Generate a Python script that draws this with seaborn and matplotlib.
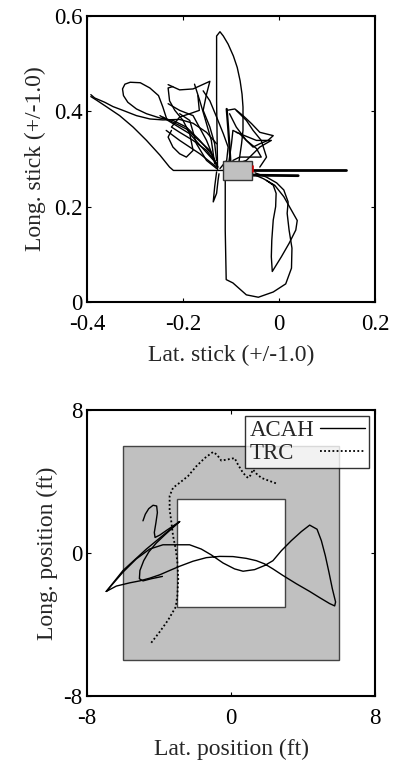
import numpy as np
import pandas as pd
import matplotlib
matplotlib.use("Agg")
import matplotlib.pyplot as plt
from matplotlib.patches import Rectangle
from matplotlib.lines import Line2D
from matplotlib.offsetbox import DrawingArea
import seaborn as sns

sns.set_style("ticks")
plt.rcParams['font.family'] = ['Liberation Serif', 'DejaVu Serif']
plt.rcParams['axes.unicode_minus'] = False

# ---------------- Top panel: stick traces (lat, long) ----------------
s_tall_x = [-0.128, -0.130, -0.130, -0.123, -0.116, -0.106, -0.095, -0.087, -0.081, -0.077, -0.075, -0.075, -0.075, -0.078, -0.081, -0.084]
s_tall_y = [0.276, 0.422, 0.558, 0.567, 0.558, 0.541, 0.516, 0.492, 0.464, 0.436, 0.409, 0.381, 0.360, 0.332, 0.311, 0.290]

s_bot_x = [-0.112, -0.112, -0.110, -0.096, -0.068, -0.043, -0.012, 0.014, 0.026, 0.027, 0.021, 0.017, 0.019, 0.010, -0.005, -0.026, -0.050]
s_bot_y = [0.255, 0.150, 0.047, 0.040, 0.015, 0.010, 0.021, 0.038, 0.071, 0.113, 0.151, 0.186, 0.210, 0.235, 0.250, 0.262, 0.271]

s_inner_x = [-0.054, -0.033, -0.009, 0.010, 0.024, 0.038, 0.035, 0.021, 0.005, -0.014, -0.016, -0.015, -0.012, -0.007, -0.006, -0.012, -0.026]
s_inner_y = [0.268, 0.259, 0.245, 0.221, 0.196, 0.171, 0.151, 0.123, 0.095, 0.064, 0.095, 0.130, 0.172, 0.200, 0.228, 0.245, 0.255]

s_diag_x = [-0.392, -0.381, -0.360, -0.332, -0.304, -0.276, -0.248, -0.228, -0.220, -0.172, -0.130, -0.116]
s_diag_y = [0.431, 0.424, 0.410, 0.391, 0.367, 0.339, 0.308, 0.283, 0.276, 0.276, 0.276, 0.276]

s_upleft_x = [-0.392, -0.384, -0.363, -0.346, -0.325, -0.297, -0.269, -0.242, -0.207, -0.179, -0.151, -0.130]
s_upleft_y = [0.435, 0.428, 0.419, 0.410, 0.402, 0.391, 0.384, 0.382, 0.383, 0.375, 0.356, 0.332]

s_loop_x = [-0.234, -0.242, -0.251, -0.269, -0.289, -0.310, -0.321, -0.326, -0.324, -0.315, -0.297, -0.276, -0.248, -0.221, -0.193, -0.165, -0.141, -0.129]
s_loop_y = [0.384, 0.409, 0.433, 0.449, 0.460, 0.461, 0.457, 0.447, 0.433, 0.419, 0.405, 0.395, 0.386, 0.381, 0.367, 0.339, 0.311, 0.283]

s_a_x = [-0.231, -0.207, -0.179, -0.144, -0.151, -0.158, -0.144, -0.134, -0.130]
s_a_y = [0.456, 0.445, 0.447, 0.463, 0.436, 0.402, 0.367, 0.332, 0.297]

s_b_x = [-0.224, -0.231, -0.221, -0.207, -0.193, -0.179, -0.186, -0.200, -0.217, -0.228, -0.231, -0.221]
s_b_y = [0.360, 0.346, 0.325, 0.311, 0.304, 0.318, 0.353, 0.381, 0.402, 0.422, 0.449, 0.452]

s_c_x = [-0.169, -0.166, -0.186, -0.207, -0.224, -0.207, -0.179, -0.151, -0.129]
s_c_y = [0.433, 0.402, 0.395, 0.388, 0.367, 0.356, 0.339, 0.318, 0.290]

s_d_x = [-0.158, -0.144, -0.130, -0.116, -0.106, -0.109, -0.123]
s_d_y = [0.443, 0.422, 0.388, 0.353, 0.325, 0.297, 0.280]

s_e_x = [-0.109, -0.092, -0.075, -0.057, -0.040, -0.012, -0.023, -0.040, -0.054, -0.068, -0.082, -0.096, -0.099, -0.103, -0.106]
s_e_y = [0.402, 0.405, 0.391, 0.374, 0.356, 0.349, 0.339, 0.332, 0.325, 0.339, 0.353, 0.360, 0.332, 0.304, 0.283]

s_f_x = [-0.103, -0.089, -0.068, -0.047, -0.037, -0.082, -0.096]
s_f_y = [0.395, 0.367, 0.339, 0.322, 0.304, 0.304, 0.297]

s_g_x = [-0.089, -0.047, -0.016, -0.040, -0.054, -0.068, -0.089]
s_g_y = [0.356, 0.339, 0.339, 0.325, 0.311, 0.297, 0.290]

s_h_x = [-0.248, -0.186, -0.130]
s_h_y = [0.391, 0.353, 0.290]

s_i_x = [-0.242, -0.193, -0.144, -0.127]
s_i_y = [0.388, 0.363, 0.318, 0.283]

s_j_x = [-0.235, -0.207, -0.165, -0.130]
s_j_y = [0.360, 0.339, 0.311, 0.283]

s_k_x = [-0.207, -0.186, -0.172, -0.151, -0.130]
s_k_y = [0.395, 0.381, 0.332, 0.297, 0.280]

s_m_x = [-0.231, -0.207, -0.179, -0.151, -0.134]
s_m_y = [0.416, 0.402, 0.391, 0.339, 0.297]

s_n_x = [-0.176, -0.165, -0.155, -0.141, -0.134]
s_n_y = [0.457, 0.422, 0.388, 0.339, 0.290]

s_p_x = [-0.109, -0.106, -0.103, -0.101]
s_p_y = [0.405, 0.367, 0.325, 0.290]

s_q_x = [-0.089, -0.068, -0.054, -0.037, -0.026, -0.040]
s_q_y = [0.402, 0.381, 0.360, 0.339, 0.304, 0.283]

s_spike_x = [-0.130, -0.134, -0.137, -0.130, -0.127, -0.125]
s_spike_y = [0.273, 0.242, 0.210, 0.228, 0.255, 0.269]

s_long_x = [-0.056, 0.139]
s_long_y = [0.277, 0.277]
s_short_x = [-0.054, 0.040]
s_short_y = [0.266, 0.265]

stick_box_x = [-0.116, -0.056]
stick_box_y = [0.255, 0.295]
red_x = [-0.055, -0.055]
red_y = [0.272, 0.285]

top_xticks = [-0.4, -0.2, 0, 0.2]
top_xlabels = ["-0.4", "-0.2", "0", "0.2"]
top_yticks = [0, 0.2, 0.4, 0.6]
top_ylabels = ["0", "0.2", "0.4", "0.6"]

# ---------------- Bottom panel: position traces ----------------
acah1_x = [-4.89, -4.76, -4.57, -4.33, -4.13, -4.09, -4.17, -4.26, -4.22, -3.96, -3.56, -3.13, -2.85, -3.22, -3.69, -4.15, -4.56, -4.85, -5.06, -5.09, -4.89, -4.43, -3.81]
acah1_y = [1.80, 2.17, 2.48, 2.67, 2.63, 2.26, 1.70, 1.15, 0.87, 1.00, 1.28, 1.57, 1.76, 1.43, 1.00, 0.56, 0.07, -0.43, -0.98, -1.44, -1.56, -1.44, -1.31]

acah2_x = [-2.85, -4.70, -6.00, -6.93]
acah2_y = [1.76, 0.22, -0.98, -2.15]

acah3_x = [-6.93, -6.37, -5.63, -5.07, -4.52, -3.96, -3.41, -2.85, -2.11, -1.37, -0.63, 0.11, 0.85, 1.41, 1.87, 2.33, 2.89, 3.63, 4.37, 4.93, 5.48, 5.76,
           5.81, 5.63, 5.44, 5.24, 5.02, 4.78, 4.37, 3.91, 3.35, 2.80, 2.33, 1.87, 1.31, 0.67, 0.20, -0.44, -1.09, -1.65, -2.30, -3.78, -4.52, -5.26, -6.00, -6.56, -6.93]
acah3_y = [-2.15, -1.85, -1.67, -1.56, -1.41, -1.22, -0.98, -0.74, -0.46, -0.26, -0.19, -0.20, -0.30, -0.43, -0.61, -0.89, -1.26, -1.72, -2.15, -2.50, -2.83, -2.96,
           -2.74, -2.00, -1.07, -0.15, 0.69, 1.33, 1.56, 1.20, 0.69, 0.13, -0.43, -0.70, -0.93, -1.02, -0.89, -0.56, -0.11, 0.22, 0.46, 0.46, 0.22, -0.33, -1.07, -1.72, -2.15]

trc_x = [-4.43, -3.96, -3.50, -3.07, -2.98, -2.93, -2.98, -3.07, -3.22, -3.31, -3.41, -3.41, -3.22, -2.85, -2.39, -1.93, -1.46, -1.00, -0.78, -0.54, -0.26, 0.20, 0.39, 0.67, 0.94, 1.07, 1.22, 1.41, 1.69, 2.06, 2.52]
trc_y = [-5.02, -4.41, -3.76, -3.02, -2.37, -1.44, -0.52, 0.22, 0.96, 1.70, 2.44, 3.19, 3.65, 3.93, 4.30, 4.85, 5.31, 5.65, 5.50, 5.17, 5.22, 5.31, 4.94, 4.48, 4.20, 4.33, 4.67, 4.44, 4.20, 4.06, 3.89]

legend_labels = ["ACAH", "TRC"]
outer_box = [-6, 6]
inner_box = [-3, 3]
bot_ticks = [-8, 0, 8]
bot_labels = ["-8", "0", "8"]

FS = 16.5

fig = plt.figure(figsize=(3.96, 7.66), dpi=100)
ax1 = fig.add_axes([87 / 396, (766 - 302) / 766, 288 / 396, 286 / 766])
ax2 = fig.add_axes([87 / 396, (766 - 696) / 766, 288 / 396, 286 / 766])

def trace(ax, xs, ys, lw=1.0, ls='-', color='black', z=3):
    df = pd.DataFrame({'x': xs, 'y': ys})
    sns.lineplot(data=df, x='x', y='y', sort=False, estimator=None, ax=ax,
                 color=color, linewidth=lw, linestyle=ls, zorder=z)

top_strokes = [
    (s_tall_x, s_tall_y), (s_bot_x, s_bot_y), (s_inner_x, s_inner_y),
    (s_diag_x, s_diag_y), (s_upleft_x, s_upleft_y), (s_loop_x, s_loop_y),
    (s_a_x, s_a_y), (s_b_x, s_b_y), (s_c_x, s_c_y), (s_d_x, s_d_y),
    (s_e_x, s_e_y), (s_f_x, s_f_y), (s_g_x, s_g_y), (s_h_x, s_h_y),
    (s_i_x, s_i_y), (s_j_x, s_j_y), (s_k_x, s_k_y), (s_m_x, s_m_y),
    (s_n_x, s_n_y), (s_q_x, s_q_y), (s_spike_x, s_spike_y),
]
for xs, ys in top_strokes:
    trace(ax1, xs, ys, lw=1.0)
trace(ax1, s_p_x, s_p_y, lw=1.6)
trace(ax1, s_long_x, s_long_y, lw=2.0)
trace(ax1, s_short_x, s_short_y, lw=2.0)
ax1.add_patch(Rectangle((stick_box_x[0], stick_box_y[0]), stick_box_x[1] - stick_box_x[0],
                        stick_box_y[1] - stick_box_y[0], facecolor='#c0c0c0',
                        edgecolor='#333333', linewidth=1.0, zorder=5))
trace(ax1, red_x, red_y, lw=1.2, color='#d00000', z=6)

ax1.set_xlim(-0.4, 0.2)
ax1.set_ylim(0, 0.6)
ax1.set_xticks(top_xticks)
ax1.set_xticklabels(top_xlabels)
ax1.set_yticks(top_yticks)
ax1.set_yticklabels(top_ylabels)
ax1.set_xlabel("Lat. stick (+/-1.0)", fontsize=FS + 0.5, labelpad=7)
ax1.set_ylabel("Long. stick (+/-1.0)", fontsize=FS + 0.5, labelpad=6)

# bottom
ax2.add_patch(Rectangle((outer_box[0], outer_box[0]), outer_box[1] - outer_box[0],
                        outer_box[1] - outer_box[0], facecolor='#c0c0c0',
                        edgecolor='#444444', linewidth=1.0, zorder=1))
ax2.add_patch(Rectangle((inner_box[0], inner_box[0]), inner_box[1] - inner_box[0],
                        inner_box[1] - inner_box[0], facecolor='white',
                        edgecolor='#444444', linewidth=1.0, zorder=2))
for xs, ys in [(acah1_x, acah1_y), (acah2_x, acah2_y), (acah3_x, acah3_y)]:
    trace(ax2, xs, ys, lw=1.0)
trace(ax2, trc_x, trc_y, lw=1.3, ls=(0, (1, 1.3)))

ax2.set_xlim(-8, 8)
ax2.set_ylim(-8, 8)
ax2.set_xticks(bot_ticks)
ax2.set_xticklabels(bot_labels)
ax2.set_yticks(bot_ticks)
ax2.set_yticklabels(bot_labels)
ax2.set_xlabel("Lat. position (ft)", fontsize=FS + 0.5, labelpad=7)
ax2.set_ylabel("Long. position (ft)", fontsize=FS + 0.5, labelpad=4)

HTP = 0.25
handles = [Line2D([0], [0], color='black', lw=1.0),
           Line2D([0], [0], color='black', lw=1.3, ls=(0, (1, 1.3)))]
leg = ax2.legend(handles, legend_labels, loc='upper right', bbox_to_anchor=(1.0, 1.0),
                 markerfirst=False, fontsize=FS, frameon=True, fancybox=False,
                 borderpad=0.2, labelspacing=0.05, handlelength=1.95, handletextpad=HTP,
                 borderaxespad=0.25)
leg.get_frame().set_edgecolor('black')
leg.get_frame().set_linewidth(1.0)

for ax in (ax1, ax2):
    for sp in ax.spines.values():
        sp.set_visible(True)
        sp.set_linewidth(1.5)
        sp.set_color('black')
    ax.tick_params(direction='in', length=3, width=0.8, top=True, right=True,
                   labelsize=FS, colors='black')
    ax.tick_params(axis='x', pad=8.5)
    ax.tick_params(axis='y', pad=3)

# left-align legend labels while keeping line samples aligned
try:
    fig.canvas.draw()
    r = fig.canvas.get_renderer()
    widths = [t.get_window_extent(r).width for t in leg.get_texts()]
    maxw = max(widths)
    for col in leg._legend_handle_box.get_children():
        col.align = "left"
        for item, w in zip(col.get_children(), widths):
            extra = (maxw - w) * 72.0 / fig.dpi - HTP * FS
            if (maxw - w) > 0.5 and extra > 0:
                item._children.insert(1, DrawingArea(extra, 1))
except Exception:
    pass

fig.savefig("out.png", dpi=100)
